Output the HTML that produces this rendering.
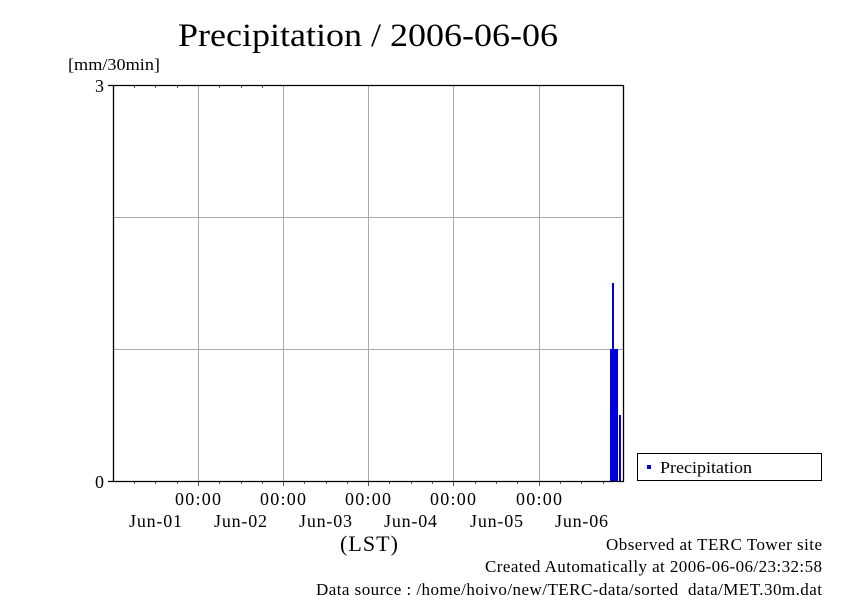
<!DOCTYPE html>
<html><head><meta charset="utf-8"><style>
html,body{margin:0;padding:0;background:#fff;}
svg{display:block;font-family:"Liberation Serif",serif;}
</style></head><body>
<svg width="842" height="595" viewBox="0 0 842 595" xmlns="http://www.w3.org/2000/svg">
<rect width="842" height="595" fill="#fff"/>
<text x="178" y="46" font-size="33" textLength="380" lengthAdjust="spacingAndGlyphs" fill="#000">Precipitation / 2006-06-06</text>
<text x="68" y="70" font-size="17" textLength="92" lengthAdjust="spacingAndGlyphs" fill="#000">[mm/30min]</text>
<g stroke="#aaa" stroke-width="1">
<line x1="198.5" y1="85" x2="198.5" y2="481"/>
<line x1="283.5" y1="85" x2="283.5" y2="481"/>
<line x1="368.5" y1="85" x2="368.5" y2="481"/>
<line x1="453.5" y1="85" x2="453.5" y2="481"/>
<line x1="539.5" y1="85" x2="539.5" y2="481"/>
<line x1="113" y1="217.5" x2="624" y2="217.5"/>
<line x1="113" y1="349.5" x2="624" y2="349.5"/>
</g>
<g stroke="#555" stroke-width="1">
<line x1="134.5" y1="85" x2="134.5" y2="88"/><line x1="155.5" y1="85" x2="155.5" y2="88"/><line x1="177.5" y1="85" x2="177.5" y2="88"/>
<line x1="219.5" y1="85" x2="219.5" y2="88"/><line x1="241.5" y1="85" x2="241.5" y2="88"/><line x1="262.5" y1="85" x2="262.5" y2="88"/>
<line x1="134.5" y1="481" x2="134.5" y2="484"/><line x1="155.5" y1="481" x2="155.5" y2="484"/><line x1="177.5" y1="481" x2="177.5" y2="484"/>
<line x1="219.5" y1="481" x2="219.5" y2="484"/><line x1="241.5" y1="481" x2="241.5" y2="484"/><line x1="262.5" y1="481" x2="262.5" y2="484"/>
<line x1="304.5" y1="481" x2="304.5" y2="484"/><line x1="326.5" y1="481" x2="326.5" y2="484"/><line x1="347.5" y1="481" x2="347.5" y2="484"/>
<line x1="389.5" y1="481" x2="389.5" y2="484"/><line x1="411.5" y1="481" x2="411.5" y2="484"/><line x1="432.5" y1="481" x2="432.5" y2="484"/>
<line x1="475.5" y1="481" x2="475.5" y2="484"/><line x1="496.5" y1="481" x2="496.5" y2="484"/><line x1="517.5" y1="481" x2="517.5" y2="484"/>
<line x1="560.5" y1="481" x2="560.5" y2="484"/><line x1="581.5" y1="481" x2="581.5" y2="484"/><line x1="603.5" y1="481" x2="603.5" y2="484"/>
<line x1="198.5" y1="481" x2="198.5" y2="486"/><line x1="283.5" y1="481" x2="283.5" y2="486"/><line x1="368.5" y1="481" x2="368.5" y2="486"/><line x1="453.5" y1="481" x2="453.5" y2="486"/><line x1="539.5" y1="481" x2="539.5" y2="486"/>
</g>
<g fill="#0000dd">
<rect x="610" y="349" width="8" height="132"/>
<rect x="612" y="283" width="2" height="66"/>
<rect x="619" y="415" width="2" height="66"/>
</g>
<g stroke="#000" stroke-width="1.3">
<line x1="113.5" y1="85" x2="113.5" y2="481"/>
<line x1="623.5" y1="85" x2="623.5" y2="481"/>
<line x1="108" y1="85.5" x2="624" y2="85.5"/>
<line x1="108" y1="481.5" x2="624" y2="481.5"/>
</g>
<text x="104" y="92" font-size="18" text-anchor="end">3</text>
<text x="104" y="488" font-size="18" text-anchor="end">0</text>
<g font-size="18" lengthAdjust="spacingAndGlyphs">
<text x="175" y="505" textLength="46">00:00</text><text x="260" y="505" textLength="46">00:00</text><text x="345" y="505" textLength="46">00:00</text><text x="430" y="505" textLength="46">00:00</text><text x="516" y="505" textLength="46">00:00</text>
<text x="129" y="527" textLength="53">Jun-01</text><text x="214" y="527" textLength="53">Jun-02</text><text x="299" y="527" textLength="53">Jun-03</text><text x="384" y="527" textLength="53">Jun-04</text><text x="470" y="527" textLength="53">Jun-05</text><text x="555" y="527" textLength="53">Jun-06</text>
<text x="340" y="551" font-size="22" textLength="58">(LST)</text>
</g>
<rect x="637.5" y="453.5" width="184" height="27" fill="#fff" stroke="#000" stroke-width="1"/>
<rect x="647" y="465" width="4" height="4" fill="#0000dd"/>
<text x="660" y="473" font-size="17" textLength="92" lengthAdjust="spacingAndGlyphs">Precipitation</text>
<g font-size="17" lengthAdjust="spacingAndGlyphs">
<text x="606" y="550" textLength="216">Observed at TERC Tower site</text>
<text x="485" y="572" textLength="337">Created Automatically at 2006-06-06/23:32:58</text>
<text x="316" y="595" textLength="506" xml:space="preserve">Data source : /home/hoivo/new/TERC-data/sorted  data/MET.30m.dat</text>
</g>
</svg>
</body></html>
